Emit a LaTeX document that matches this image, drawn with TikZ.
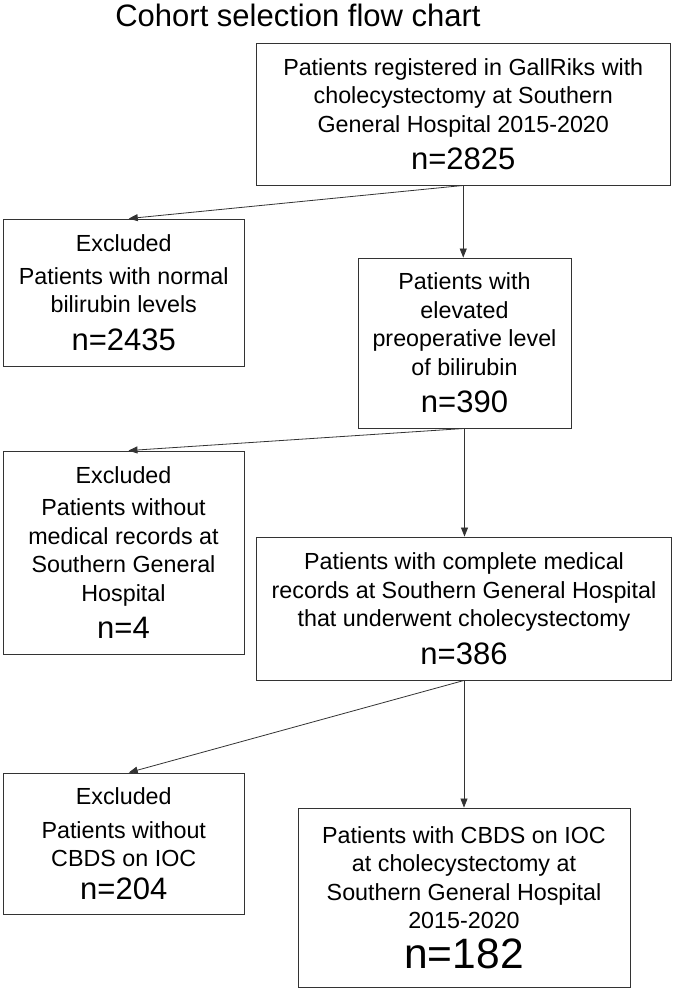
\documentclass[tikz,border=0pt]{standalone}
\usepackage{fontspec}
\setmainfont{Liberation Sans}
\usepackage{tikz}
\usetikzlibrary{arrows.meta, positioning}

\newcommand{\nval}[1]{{\fontsize{31}{31}\selectfont #1}}

\begin{document}
\begin{tikzpicture}[
  x=1pt, y=-1pt,
  box/.style={rectangle, draw=black!80, line width=0.9pt, align=center, inner sep=0pt,
              font=\fontsize{23.3}{28.5}\selectfont},
  arrow/.style={-{Triangle[length=9pt, width=7pt]}, line width=0.8pt, draw=black!80},
]
  \useasboundingbox (0,0) rectangle (673,989);
  \node[font=\fontsize{31}{36}\selectfont, anchor=base, inner sep=0pt] (title) at (298,26) {Cohort selection flow chart};

  \node[box, minimum width=413.5pt, minimum height=142pt] (start) at (463.25,114)
    {Patients registered in GallRiks with\\cholecystectomy at Southern\\General Hospital 2015-2020\\[9pt]\nval{n=2825}};
  \node[box, minimum width=240.5pt, minimum height=147pt] (excl1) at (123.75,292.5)
    {Excluded\\[4pt]Patients with normal\\bilirubin levels\\[9pt]\nval{n=2435}};
  \node[box, minimum width=213pt, minimum height=170pt] (elev) at (464.5,343)
    {Patients with\\elevated\\preoperative level\\of bilirubin\\[9pt]\nval{n=390}};
  \node[box, minimum width=241pt, minimum height=203pt] (excl2) at (123.5,552.5)
    {Excluded\\[4pt]Patients without\\medical records at\\Southern General\\Hospital\\[9pt]\nval{n=4}};
  \node[box, minimum width=415pt, minimum height=143pt] (records) at (464,608.5)
    {Patients with complete medical\\records at Southern General Hospital\\that underwent cholecystectomy\\[9pt]\nval{n=386}};
  \node[box, minimum width=240.5pt, minimum height=141pt] (excl3) at (123.75,843.5)
    {Excluded\\[5pt]Patients without\\CBDS on IOC\\[4pt]\nval{n=204}};
  \node[box, minimum width=332pt, minimum height=179pt] (final) at (464,897.5)
    {Patients with CBDS on IOC\\at cholecystectomy at\\Southern General Hospital\\2015-2020\\[9pt]{\fontsize{42.5}{42.5}\selectfont n=182}};

  \draw[arrow] (start.south) -- (start.south |- elev.north);
  \draw[arrow] (start.south) -- ([xshift=5pt]excl1.north);
  \draw[arrow] (elev.south) -- (elev.south |- records.north);
  \draw[arrow] (elev.south) -- ([xshift=5pt]excl2.north);
  \draw[arrow] (records.south) -- (records.south |- final.north);
  \draw[arrow] (records.south) -- ([xshift=5pt]excl3.north);
\end{tikzpicture}
\end{document}
